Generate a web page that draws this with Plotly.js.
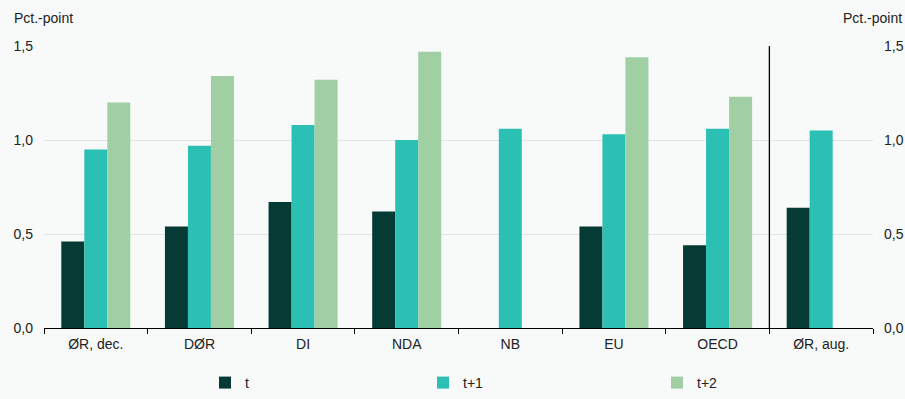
<!DOCTYPE html>
<html>
<head>
<meta charset="utf-8">
<script src="https://cdn.plot.ly/plotly-3.0.1.min.js"></script>
<style>html,body{margin:0;padding:0;background:#f8f9f9;}</style>
</head>
<body>
<div id="chart" style="width:905px;height:399px;"></div>
<script>
const categories = ["ØR, dec.", "DØR", "DI", "NDA", "NB", "EU", "OECD", "ØR, aug."];
const seriesT  = [0.46, 0.54, 0.67, 0.62, null, 0.54, 0.44, 0.64];
const seriesT1 = [0.95, 0.97, 1.08, 1.00, 1.06, 1.03, 1.06, 1.05];
const seriesT2 = [1.20, 1.34, 1.32, 1.47, null, 1.44, 1.23, null];
const seriesNames = ["t", "t+1", "t+2"];
const yTicks = [0, 0.5, 1.0, 1.5];

const colors = ["#053a35", "#2cbfb3", "#a1cfa4"];
const font = {family: "Liberation Sans, Arial, sans-serif", size: 14, color: "#222"};

const traces = [seriesT, seriesT1, seriesT2].map((vals, i) => ({
  type: "bar",
  name: seriesNames[i],
  x: categories,
  y: vals,
  marker: {color: colors[i], line: {width: 0}},
  legend: i === 0 ? "legend" : (i === 1 ? "legend2" : "legend3"),
  hoverinfo: "x+y"
}));
// invisible trace to draw right axis
traces.push({type: "bar", x: categories, y: seriesT1.map(() => null), yaxis: "y2", showlegend: false, hoverinfo: "skip"});

const legendCommon = {orientation: "h", yanchor: "middle", y: -0.195, xanchor: "left",
  bgcolor: "rgba(0,0,0,0)", font: font, itemwidth: 30};

const layout = {
  width: 905, height: 399,
  margin: {l: 44, r: 32, t: 46, b: 71, autoexpand: false},
  paper_bgcolor: "#f8f9f9",
  plot_bgcolor: "#f8f9f9",
  font: font,
  separators: ",.",
  barmode: "group",
  bargap: 0.334,
  bargroupgap: 0,
  xaxis: {
    type: "category",
    tickson: "boundaries",
    ticks: "outside", ticklen: 5, tickcolor: "#000", tickwidth: 1,
    showline: true, linecolor: "#000", linewidth: 1.3,
    showgrid: false, zeroline: false,
    tickfont: font, ticklabelstandoff: 3
  },
  yaxis: {
    range: [0, 1.5], tickvals: yTicks, tickformat: ".1f",
    showgrid: true, gridcolor: "#e2e4e4", gridwidth: 1,
    zeroline: false, showline: false, ticks: "", tickfont: font,
    ticklabelstandoff: 10
  },
  yaxis2: {
    range: [0, 1.5], tickvals: yTicks, tickformat: ".1f",
    overlaying: "y", side: "right", showgrid: false, zeroline: false,
    showline: false, ticks: "", tickfont: font, ticklabelstandoff: 10
  },
  showlegend: true,
  legend:  Object.assign({}, legendCommon, {x: (205 - 44) / 829}),
  legend2: Object.assign({}, legendCommon, {x: (423 - 44) / 829}),
  legend3: Object.assign({}, legendCommon, {x: (657 - 44) / 829}),
  shapes: [{type: "line", xref: "x", yref: "paper", x0: 6.5, x1: 6.5, y0: 0, y1: 1,
    line: {color: "#000", width: 1.3}}],
  annotations: [
    {text: "Pct.-point", xref: "paper", yref: "paper", x: -32/829, y: 1 + (46-18)/282,
     xanchor: "left", yanchor: "middle", showarrow: false, font: font},
    {text: "Pct.-point", xref: "paper", yref: "paper", x: 1 + 31/829, y: 1 + (46-18)/282,
     xanchor: "right", yanchor: "middle", showarrow: false, font: font}
  ]
};

Plotly.newPlot("chart", traces, layout, {displayModeBar: false, staticPlot: true});
</script>
</body>
</html>
